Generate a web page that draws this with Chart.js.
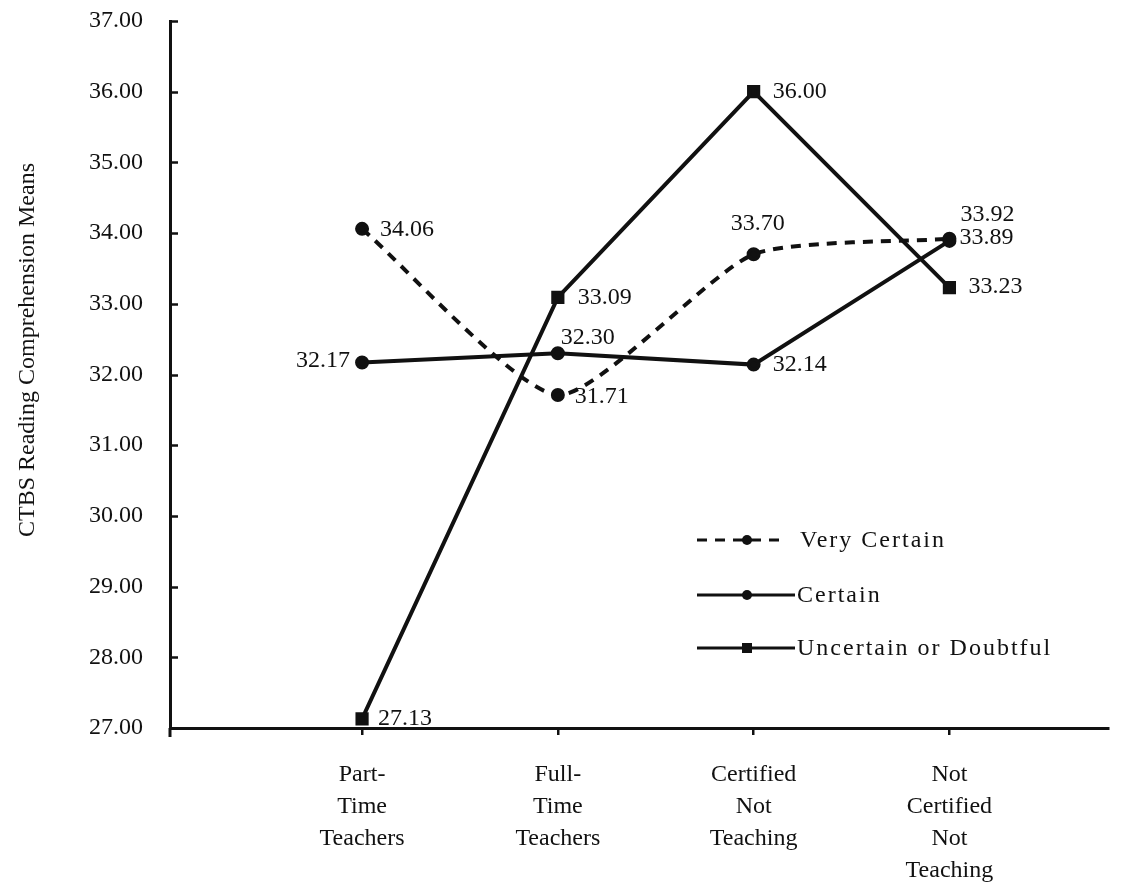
<!DOCTYPE html>
<html>
<head>
<meta charset="utf-8">
<script src="https://cdn.jsdelivr.net/npm/chart.js@4.4.1/dist/chart.umd.min.js"></script>
<style>
  html, body { margin: 0; padding: 0; background: #fff; }
  #wrap { width: 1141px; height: 889px; position: relative; }
</style>
</head>
<body>
<div id="wrap"><canvas id="chart"></canvas></div>
<script>
// categories (x axis) and series values
const categories = [
  ['Part-', 'Time', 'Teachers'],
  ['Full-', 'Time', 'Teachers'],
  ['Certified', 'Not', 'Teaching'],
  ['Not', 'Certified', 'Not', 'Teaching'],
];
const seriesNames = ['Very Certain', 'Certain', 'Uncertain or Doubtful'];
const veryCertain = [34.06, 31.71, 33.70, 33.92];
const certain = [32.17, 32.30, 32.14, 33.89];
const uncertain = [27.13, 33.09, 36.00, 33.23];
const yTicks = [27, 28, 29, 30, 31, 32, 33, 34, 35, 36, 37];
const yTitle = 'CTBS Reading Comprehension Means';

// value label placement per point: [dx, dy, align]
const labelPlace = [
  [[18, 1, 'left'], [17, 2, 'left'], [4, -31, 'center'], [11, -24, 'left']],
  [[-12, -2, 'right'], [3, -16, 'left'], [19, 0, 'left'], [10, -3, 'left']],
  [[16, 0, 'left'], [20, 0, 'left'], [19, 0, 'left'], [19, -1, 'left']],
];

const FONT = "'Liberation Serif', 'DejaVu Serif', serif";
const INK = '#111';

// value labels, inward y ticks, axis title and the hand-laid legend
const annotate = {
  id: 'annotate',
  afterDraw(chart) {
    const ctx = chart.ctx;
    const area = chart.chartArea;
    const y = chart.scales.y;
    ctx.save();

    // y ticks point into the plot
    ctx.strokeStyle = INK;
    ctx.lineWidth = 2.5;
    yTicks.forEach(v => {
      const py = Math.round(y.getPixelForValue(v)) + 0.5;
      ctx.beginPath();
      ctx.moveTo(area.left, py);
      ctx.lineTo(area.left + 8, py);
      ctx.stroke();
    });
    // y axis runs a little below the x axis
    ctx.lineWidth = 3;
    ctx.beginPath();
    ctx.moveTo(area.left, area.bottom);
    ctx.lineTo(area.left, area.bottom + 9);
    ctx.stroke();

    // y axis title, sits a bit above the middle of the axis
    ctx.font = '24px ' + FONT;
    ctx.fillStyle = INK;
    ctx.save();
    ctx.translate(28, 350);
    ctx.rotate(-Math.PI / 2);
    ctx.textAlign = 'center';
    ctx.textBaseline = 'middle';
    ctx.fillText(yTitle, 0, 0);
    ctx.restore();

    // point labels
    ctx.textBaseline = 'middle';
    chart.data.datasets.forEach((ds, di) => {
      const meta = chart.getDatasetMeta(di);
      meta.data.forEach((pt, i) => {
        const [dx, dy, align] = labelPlace[di][i];
        ctx.textAlign = align;
        ctx.fillText(ds.data[i].y.toFixed(2), pt.x + dx, pt.y + dy);
      });
    });

    // legend
    const rows = [540, 595, 648];
    chart.data.datasets.forEach((ds, di) => {
      const ly = rows[di];
      const dashed = ds.borderDash.length > 0;
      const x0 = 697, x1 = dashed ? 787 : 795, mx = 747;
      ctx.strokeStyle = INK;
      ctx.lineWidth = 3;
      ctx.setLineDash(ds.borderDash);
      ctx.beginPath();
      ctx.moveTo(x0, ly);
      ctx.lineTo(x1, ly);
      ctx.stroke();
      ctx.setLineDash([]);
      ctx.fillStyle = INK;
      if (ds.pointStyle === 'rect') {
        ctx.fillRect(mx - 5, ly - 5, 10, 10);
      } else {
        ctx.beginPath();
        ctx.arc(mx, ly, 5, 0, Math.PI * 2);
        ctx.fill();
      }
      ctx.textAlign = 'left';
      ctx.letterSpacing = '2px';
      ctx.fillText(ds.label, dashed ? 800 : 797, ly + 1);
      ctx.letterSpacing = '0px';
    });
    ctx.restore();
  },
};

const toPoints = arr => arr.map((v, i) => ({ x: i, y: v }));

new Chart(document.getElementById('chart'), {
  type: 'line',
  data: {
    datasets: [
      {
        label: seriesNames[0],
        data: toPoints(veryCertain),
        borderColor: INK,
        backgroundColor: INK,
        borderWidth: 4,
        borderDash: [10, 8],
        tension: 0.2,
        pointStyle: 'circle',
        pointRadius: 5,
      },
      {
        label: seriesNames[1],
        data: toPoints(certain),
        borderColor: INK,
        backgroundColor: INK,
        borderWidth: 4,
        borderDash: [],
        tension: 0,
        pointStyle: 'circle',
        pointRadius: 5,
      },
      {
        label: seriesNames[2],
        data: toPoints(uncertain),
        borderColor: INK,
        backgroundColor: INK,
        borderWidth: 4,
        borderDash: [],
        tension: 0,
        pointStyle: 'rect',
        pointRadius: 6.5,
      },
    ],
  },
  options: {
    responsive: true,
    maintainAspectRatio: false,
    animation: false,
    clip: false,
    layout: { autoPadding: false, padding: { top: 21, right: 33, left: 0, bottom: 0 } },
    plugins: {
      legend: { display: false },
      tooltip: { enabled: false },
    },
    scales: {
      x: {
        type: 'linear',
        min: -0.981,
        max: 3.81,
        afterBuildTicks: s => { s.ticks = categories.map((c, i) => ({ value: i })); },
        afterFit: s => { s.height = 161; s.paddingLeft = 0; s.paddingRight = 0; },
        border: { display: true, color: INK, width: 3 },
        grid: { drawOnChartArea: false, drawTicks: true, tickLength: 7, color: INK, lineWidth: 2.5 },
        ticks: {
          color: INK,
          padding: 24,
          maxRotation: 0,
          autoSkip: false,
          font: { family: FONT, size: 24, lineHeight: 1.33 },
          callback: v => categories[v] || '',
        },
      },
      y: {
        min: 27,
        max: 37,
        afterBuildTicks: s => { s.ticks = yTicks.map(v => ({ value: v })); },
        afterFit: s => { s.width = 170; s.paddingTop = 0; s.paddingBottom = 0; },
        border: { display: true, color: INK, width: 3 },
        grid: { drawOnChartArea: false, drawTicks: false },
        ticks: {
          color: INK,
          padding: 27,
          font: { family: FONT, size: 24 },
          callback: v => v.toFixed(2),
        },
      },
    },
  },
  plugins: [annotate],
});
</script>
</body>
</html>
